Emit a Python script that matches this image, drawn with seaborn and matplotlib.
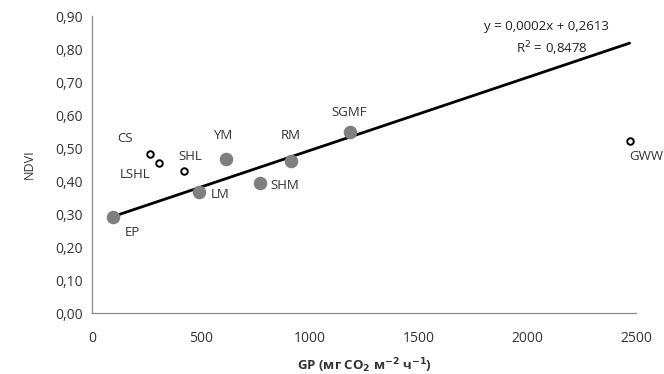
import numpy as np
import pandas as pd
import matplotlib
matplotlib.use("Agg")
import matplotlib.pyplot as plt
from matplotlib.ticker import FuncFormatter, MultipleLocator
import seaborn as sns

# ==========================================
# DATA
# ==========================================
sites = ["EP", "CS", "LSHL", "SHL", "LM", "YM", "SHM", "RM", "SGMF", "GWW"]
gp = [96, 263, 305, 423, 489, 614, 772, 913, 1186, 2470]
ndvi = [0.290, 0.482, 0.454, 0.431, 0.368, 0.466, 0.395, 0.462, 0.548, 0.522]
in_fit = [True, False, False, False, True, True, True, True, True, False]

eq_text = "y = 0,0002x + 0,2613"
r2_text = "R$^2$ = 0,8478"

df = pd.DataFrame({"site": sites, "GP": gp, "NDVI": ndvi, "fit": in_fit})

# label offsets (points) and alignment
label_pos = {
    "EP": (8, -11, "left"), "CS": (-12, 11, "right"), "LSHL": (-6, -8, "right"),
    "SHL": (4, 10, "center"), "LM": (9, -2, "left"), "YM": (-2, 17, "center"),
    "SHM": (18, -2, "center"), "RM": (0, 18, "center"), "SGMF": (-1, 14, "center"),
    "GWW": (12, -11, "center"),
}

# ==========================================
# PLOT
# ==========================================
sns.set_style("white")
plt.rcParams["font.family"] = ["Open Sans", "DejaVu Sans"]

fig = plt.figure(figsize=(6.64, 3.74), dpi=100)
ax = fig.add_axes([0.139, 0.163, 0.819, 0.794])

# trend line from the filled points, drawn across full x range
fit_df = df[df["fit"]]
slope, intercept = np.polyfit(fit_df["GP"], fit_df["NDVI"], 1)
xs = np.array([df["GP"].min(), df["GP"].max()])
sns.lineplot(x=xs, y=slope * xs + intercept, color="black", linewidth=2, ax=ax, zorder=2)

sns.scatterplot(data=fit_df, x="GP", y="NDVI", s=95, color="#7f7f7f",
                edgecolor="#7f7f7f", linewidth=0, ax=ax, zorder=3)
sns.scatterplot(data=df[~df["fit"]], x="GP", y="NDVI", s=22, color="white",
                edgecolor="black", linewidth=1.4, ax=ax, zorder=3)

for _, r in df.iterrows():
    dx, dy, ha = label_pos[r["site"]]
    ax.annotate(r["site"], (r["GP"], r["NDVI"]), xytext=(dx, dy),
                textcoords="offset points", ha=ha, va="center",
                fontsize=9.5, color="#333333")

ax.text(0.835, 0.965, eq_text, transform=ax.transAxes, ha="center", va="center",
        fontsize=9.5, color="#222222")
ax.text(0.845, 0.89, r2_text, transform=ax.transAxes, ha="center", va="center",
        fontsize=9.5, color="#222222")

ax.set_xlim(0, 2500)
ax.set_ylim(0, 0.9)
ax.xaxis.set_major_locator(MultipleLocator(500))
ax.yaxis.set_major_locator(MultipleLocator(0.1))
ax.yaxis.set_major_formatter(FuncFormatter(lambda v, p: f"{v:.2f}".replace(".", ",")))

for s in ["top", "right"]:
    ax.spines[s].set_visible(False)
for s in ["left", "bottom"]:
    ax.spines[s].set_color("#8c8c8c")
    ax.spines[s].set_linewidth(0.9)
ax.tick_params(axis="both", direction="out", length=4, width=0.9, color="#8c8c8c",
               labelsize=10, labelcolor="#333333", pad=3)
ax.tick_params(axis="x", pad=9)

ax.set_xlabel("GP (мг CO$_\\mathbf{2}$ м$^{\\mathbf{-2}}$ ч$^{\\mathbf{-1}}$)",
              fontsize=9.5, fontweight="bold", color="#333333", labelpad=7)
ax.set_ylabel("NDVI", fontsize=9, color="#333333", labelpad=14)

fig.savefig("out.png", dpi=100)
